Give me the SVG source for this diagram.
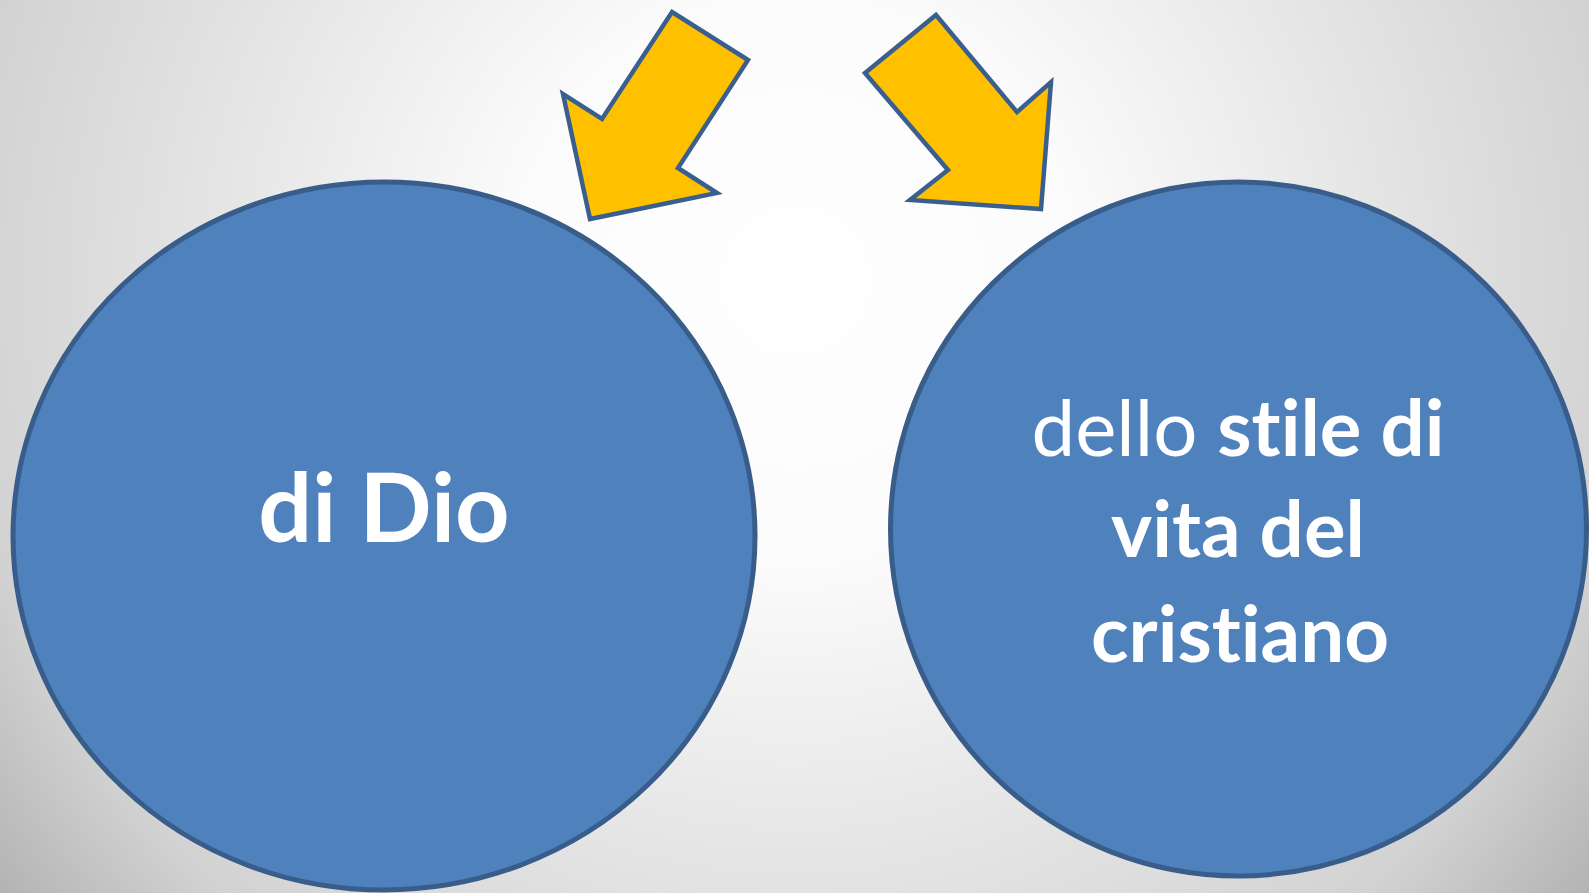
<svg xmlns="http://www.w3.org/2000/svg" width="1589" height="893" viewBox="0 0 1589 893">
<defs>
<radialGradient id="bg" gradientUnits="userSpaceOnUse" cx="795" cy="280" r="1010">
<stop offset="0" stop-color="#ffffff"/>
<stop offset="0.28" stop-color="#fbfbfb"/>
<stop offset="0.6" stop-color="#e3e3e3"/>
<stop offset="0.83" stop-color="#d2d2d2"/>
<stop offset="1" stop-color="#b2b2b2"/>
</radialGradient>
<style>
.node{fill:#4F81BD;stroke:#385D8A;stroke-width:5}
.arrow{fill:#FFC000;stroke:#3A5F8F;stroke-width:4.5;stroke-linejoin:miter}
.lbl{font-family:Lato,"Open Sans","Liberation Sans",sans-serif;fill:#ffffff;text-anchor:middle;font-variant-ligatures:none}
.b{font-weight:bold}
.r{font-weight:normal}
</style>
</defs>
<rect width="1589" height="893" fill="url(#bg)"/>
<g id="node-dio">
<ellipse class="node" cx="384" cy="536" rx="371" ry="354"/>
<text class="lbl b" x="384" y="542" font-size="95">di Dio</text>
</g>
<g id="node-stile">
<ellipse class="node" cx="1238.5" cy="529" rx="348" ry="347"/>
<text class="lbl" x="1238" y="456" font-size="78"><tspan class="r">dello </tspan><tspan class="b">stile di</tspan></text>
<text class="lbl b" x="1238" y="557" font-size="78">vita del</text>
<text class="lbl b" x="1240" y="662" font-size="78">cristiano</text>
</g>
<g id="arrows">
<polygon class="arrow" points="672,12 748,60 678,168 717,193 590,219 563,94 602,119"/>
<polygon class="arrow" points="936,15 1017,112 1051,82 1041,209 910,200 948,170 865,73"/>
</g>
</svg>
